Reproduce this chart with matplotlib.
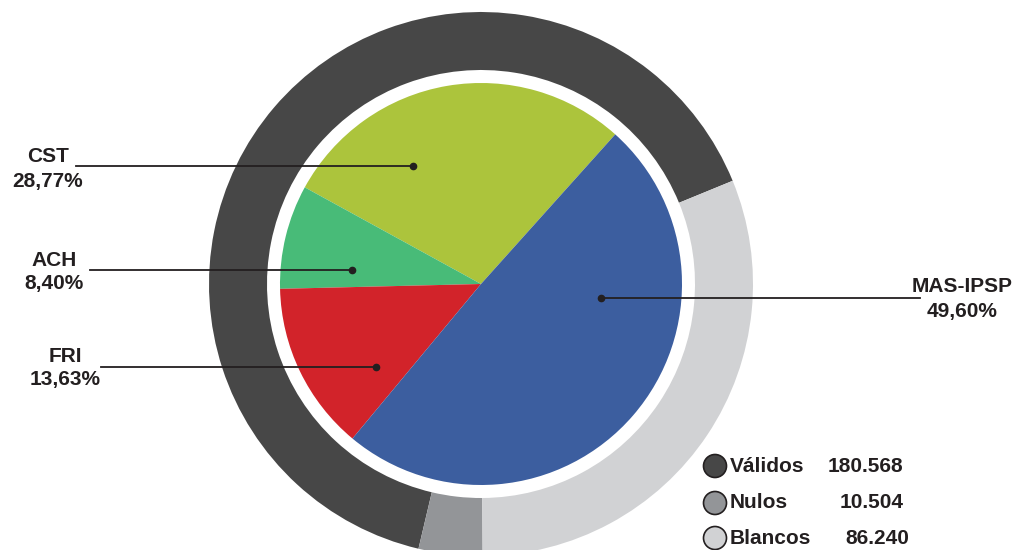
import matplotlib.pyplot as plt

plt.rcParams['font.family'] = ['Liberation Sans', 'DejaVu Sans']

# outer ring: votos
tipos = ['Válidos', 'Nulos', 'Blancos']
votos = [180568, 10504, 86240]
votos_txt = ['180.568', '10.504', '86.240']
colores_ext = ['#474747', '#939598', '#d1d2d4']

# inner pie: partidos (% de válidos)
partidos = ['CST', 'ACH', 'FRI', 'MAS-IPSP']
porcentajes = [28.77, 8.40, 13.63, 49.60]
porc_txt = ['28,77%', '8,40%', '13,63%', '49,60%']
colores_int = ['#acc43c', '#48bb78', '#d2232a', '#3c5e9f']

H = 550
cx, cy = 481, H - 284

fig = plt.figure(figsize=(10.15, 5.5), dpi=100)
ax = fig.add_axes([0, 0, 1, 1])

ax.pie(votos, colors=colores_ext, radius=272, center=(cx, cy),
       startangle=22.3, counterclock=True,
       wedgeprops=dict(width=58, linewidth=0))
ax.pie(porcentajes, colors=colores_int, radius=201, center=(cx, cy),
       startangle=48.1, counterclock=True,
       wedgeprops=dict(linewidth=0))

# etiquetas: (x texto, y texto nombre, x inicio linea, y linea, x punto)
pos = {
    'CST': (48, 157, 76, 166, 413),
    'ACH': (54, 260, 90, 270, 352),
    'FRI': (65, 356, 101, 367, 376),
    'MAS-IPSP': (962, 287, 601, 298, 920),
}
for p, t in zip(partidos, porc_txt):
    tx, ty, lx, ly, dx = pos[p]
    ax.plot([lx, dx], [H - ly, H - ly], color='#231f20', lw=1.3)
    px = dx if p != 'MAS-IPSP' else lx
    ax.plot(px, H - ly, 'o', color='#231f20', ms=4.5)
    ax.text(tx, H - ty, p, ha='center', va='center', fontsize=15,
            fontweight='bold', color='#231f20')
    ax.text(tx, H - ty - 24, t, ha='center', va='center', fontsize=15,
            fontweight='bold', color='#231f20')

# leyenda
ley_y = [466, 503, 538]
val_x = [828, 840, 845]
for nombre, txt, c, y, vx in zip(tipos, votos_txt, colores_ext, ley_y, val_x):
    ax.add_patch(plt.Circle((715, H - y), 11.5, facecolor=c,
                            edgecolor='#231f20', lw=1.2))
    ax.text(730, H - y, nombre, ha='left', va='center', fontsize=15,
            fontweight='bold', color='#231f20')
    ax.text(vx, H - y, txt, ha='left', va='center', fontsize=15,
            fontweight='bold', color='#231f20')

ax.set_xlim(0, 1015)
ax.set_ylim(0, H)
ax.set_aspect('equal')
ax.axis('off')

fig.savefig('out.png', dpi=100)
